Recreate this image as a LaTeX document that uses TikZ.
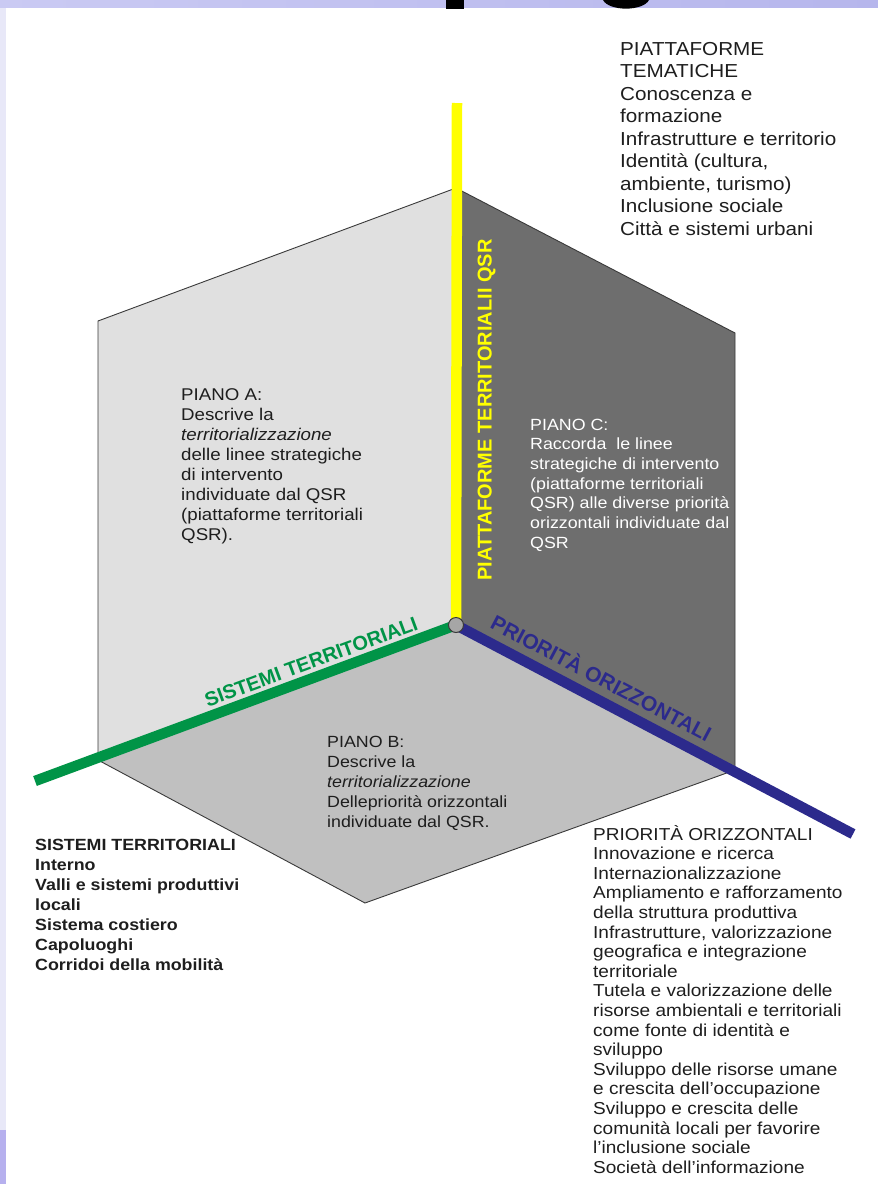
\documentclass[tikz,border=0pt]{standalone}
\usepackage{fontspec}
\setmainfont{Liberation Sans}[FakeStretch=1.1]
\newfontfamily\axisfont{Liberation Sans}
\newcommand\tblk[1]{\begin{tabular}[t]{@{}l@{}}#1\end{tabular}}
\definecolor{bandA}{HTML}{CACAF3}
\definecolor{bandB}{HTML}{B6B6EC}
\definecolor{stripcol}{HTML}{E8E8F8}
\definecolor{stripdark}{HTML}{B6B0EE}
\definecolor{planeAcol}{HTML}{E0E0E0}
\definecolor{planeBcol}{HTML}{C0C0C0}
\definecolor{planeCcol}{HTML}{6E6E6E}
\definecolor{edgecol}{HTML}{3A3A3A}
\definecolor{axyellow}{HTML}{FFFF00}
\definecolor{axgreen}{HTML}{009447}
\definecolor{axblue}{HTML}{2C2A8C}
\definecolor{txtcol}{HTML}{1E1E1E}
\definecolor{hubcol}{HTML}{A6A6A6}
\begin{document}
\begin{tikzpicture}[x=1pt,y=-1pt,
  plane/.style={draw=edgecol,line width=0.9pt,line join=miter},
  axisline/.style={line width=10.5pt,line cap=butt},
  axislab/.style={inner sep=0pt,font=\axisfont\bfseries},
  blocktext/.style={anchor=base west,inner sep=0pt,text=txtcol}]
\useasboundingbox (0,0) rectangle (878,1184);
% background
\fill[white] (0,0) rectangle (878,1184);
\fill[stripcol] (0,0) rectangle (6,1184);
\fill[stripdark] (0,1130) rectangle (6,1184);
\fill[left color=bandA,right color=bandB] (0,0) rectangle (878,7.5);
% cut-off title letters
\fill[black] (446,0) rectangle (464,9);
\fill[black] (603,0) .. controls (609,11.5) and (643,11.5) .. (649,0) -- cycle;
% plane geometry
\coordinate (O) at (456,625);
\coordinate (T) at (456,188);
\coordinate (A) at (98,760);
\coordinate (AT) at (98,321);
\coordinate (C) at (735,770);
\coordinate (CT) at (735,333);
\coordinate (B) at (365,903);
\coordinate (Ytop) at (457,103);
\coordinate (Gend) at (35,781);
\coordinate (Bend) at (853,834);
\filldraw[plane,fill=planeAcol] (O) -- (A) -- (AT) -- (T) -- cycle;
\filldraw[plane,fill=planeCcol] (O) -- (T) -- (CT) -- (C) -- cycle;
\filldraw[plane,fill=planeBcol] (O) -- (A) -- (B) -- (C) -- cycle;
% axes
\draw[axisline,axyellow] (O) -- (Ytop);
\draw[axisline,axgreen] (O) -- (Gend);
\draw[axisline,axblue] (O) -- (Bend);
\node[circle,draw=edgecol,fill=hubcol,line width=1pt,minimum size=15pt,inner sep=0pt] (hub) at (O) {};
% axis labels
\node[axislab,text=axyellow,rotate=90,font=\axisfont\bfseries\fontsize{20}{22}\selectfont] (ylab) at (486.5,410) {PIATTAFORME TERRITORIALII QSR};
\node[axislab,text=axgreen,rotate=20.3,font=\axisfont\bfseries\fontsize{20}{22}\selectfont] (glab) at (311,662) {SISTEMI TERRITORIALI};
\node[axislab,text=axblue,rotate=-27.9,font=\axisfont\bfseries\fontsize{21}{22}\selectfont] (blab) at (602,677) {PRIORITÀ ORIZZONTALI};
% plane texts
\node[blocktext,font=\fontsize{17}{20}\selectfont] (pa) at (181,400) {\tblk{PIANO A:\\Descrive la\\\textit{territorializzazione}\\delle linee strategiche\\di intervento\\individuate dal QSR\\(piattaforme territoriali\\QSR).}};
\node[blocktext,text=white,font=\fontsize{16.2}{19.7}\selectfont] (pc) at (530,430) {\tblk{PIANO C:\\Raccorda\ \ le linee\\strategiche di intervento\\(piattaforme territoriali\\QSR) alle diverse priorità\\orizzontali individuate dal\\QSR}};
\node[blocktext,font=\fontsize{16.2}{20}\selectfont] (pb) at (327,747) {\tblk{PIANO B:\\Descrive la\\\textit{territorializzazione}\\Dellepriorità orizzontali\\individuate dal QSR.}};
% outer lists
\node[blocktext,font=\fontsize{18.8}{22.5}\selectfont] (pt) at (620,55) {\tblk{PIATTAFORME\\TEMATICHE\\Conoscenza e\\formazione\\Infrastrutture e territorio\\Identità (cultura,\\ambiente, turismo)\\Inclusione sociale\\Città e sistemi urbani}};
\node[blocktext,font=\bfseries\fontsize{16.2}{20}\selectfont] (st) at (35,850) {\tblk{SISTEMI TERRITORIALI\\Interno\\Valli e sistemi produttivi\\locali\\Sistema costiero\\Capoluoghi\\Corridoi della mobilità}};
\node[blocktext,font=\fontsize{17.3}{19.6}\selectfont] (po) at (593,840) {\tblk{PRIORITÀ ORIZZONTALI\\Innovazione e ricerca\\Internazionalizzazione\\Ampliamento e rafforzamento\\della struttura produttiva\\Infrastrutture, valorizzazione\\geografica e integrazione\\territoriale\\Tutela e valorizzazione delle\\risorse ambientali e territoriali\\come fonte di identità e\\sviluppo\\Sviluppo delle risorse umane\\e crescita dell’occupazione\\Sviluppo e crescita delle\\comunità locali per favorire\\l’inclusione sociale\\Società dell’informazione}};
\end{tikzpicture}
\end{document}
